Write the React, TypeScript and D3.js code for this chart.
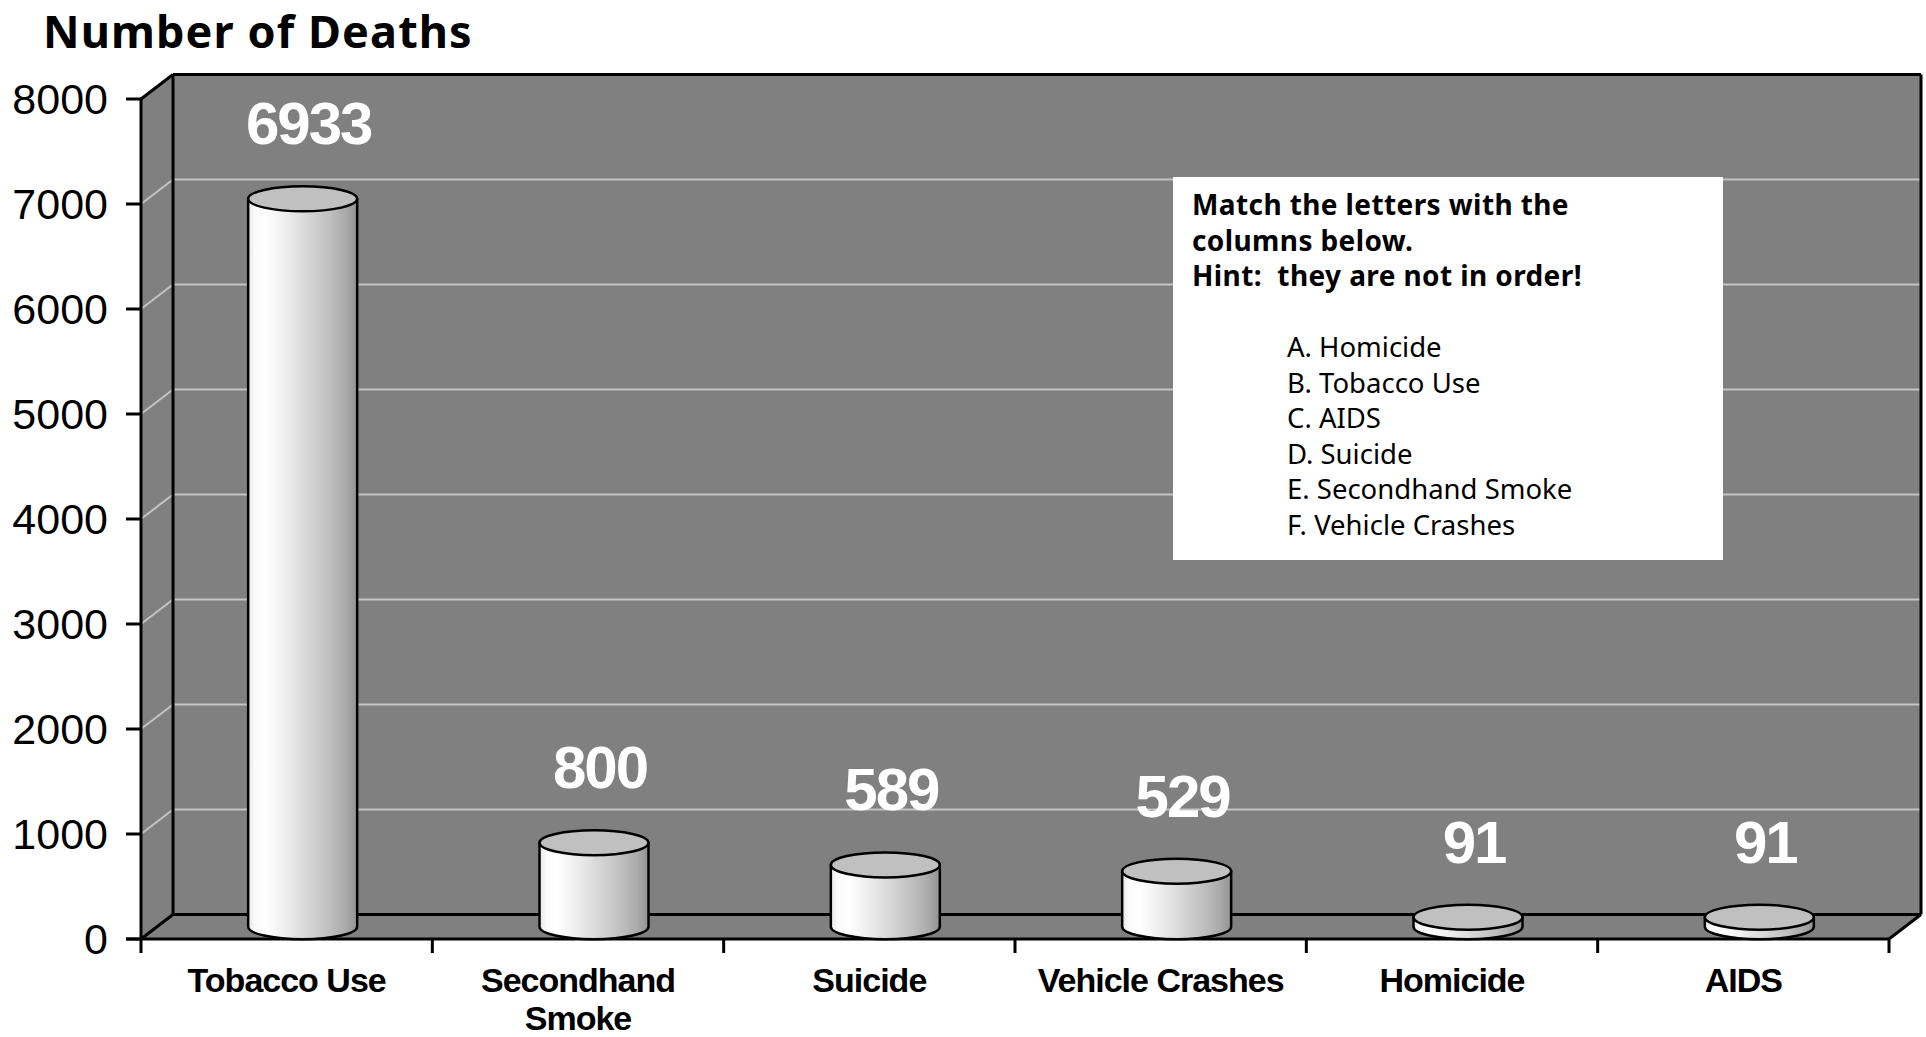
import React from "react";
import * as d3 from "d3";

const categories = ["Tobacco Use", "Secondhand Smoke", "Suicide", "Vehicle Crashes", "Homicide", "AIDS"];
const categoryLines = [["Tobacco Use"], ["Secondhand", "Smoke"], ["Suicide"], ["Vehicle Crashes"], ["Homicide"], ["AIDS"]];
const deaths = [6933, 800, 589, 529, 91, 91];
const yTicks = [0, 1000, 2000, 3000, 4000, 5000, 6000, 7000, 8000];
const title = "Number of Deaths";
const boxHeader = ["Match the letters with the", "columns below.", "Hint:  they are not in order!"];
const boxItems = ["A. Homicide", "B. Tobacco Use", "C. AIDS", "D. Suicide", "E. Secondhand Smoke", "F. Vehicle Crashes"];

const W = 1926;
const H = 1037;

export default function App() {
  const x0 = 141, x1 = 1889, y0 = 939, y1 = 99;
  const dx = 32, dy = 24.5;
  const y = d3.scaleLinear().domain([0, 8000]).range([y0, y1]);
  const x = d3.scaleBand<string>().domain(categories).range([x0, x1]);
  const bw = x.bandwidth();
  const rx = 54.5, ry = 12.5;
  const arial = "'Liberation Sans', Arial, sans-serif";
  const tahoma = "'Noto Sans', 'DejaVu Sans', sans-serif";
  const gray = "#808080";
  const grid = "#c4c4c4";

  const boundaries = [...categories.map((c) => x(c) as number), x1];

  return (
    <svg width={W} height={H} style={{ position: "absolute", left: 0, top: 0, background: "#fff" }}>
      <defs>
        <linearGradient id="cyl" x1="0" x2="1" y1="0" y2="0">
          <stop offset="0" stopColor="#e6e6e6" />
          <stop offset="0.06" stopColor="#fbfbfb" />
          <stop offset="0.16" stopColor="#ffffff" />
          <stop offset="0.35" stopColor="#ededed" />
          <stop offset="0.55" stopColor="#d6d6d6" />
          <stop offset="0.75" stopColor="#bfbfbf" />
          <stop offset="0.9" stopColor="#a9a9a9" />
          <stop offset="1" stopColor="#929292" />
        </linearGradient>
      </defs>
      <style>{"body{margin:0;overflow:hidden}"}</style>

      {/* title */}
      <text x={43} y={48} fontFamily={tahoma} fontWeight="bold" fontSize={45} letterSpacing={1.1} fill="#000">{title}</text>

      {/* side wall */}
      <polygon points={`${x0},${y1} ${x0 + dx},${y1 - dy} ${x0 + dx},${y0 - dy} ${x0},${y0}`} fill={gray} />
      {/* back wall */}
      <rect x={x0 + dx} y={y1 - dy} width={x1 - x0} height={y0 - y1} fill={gray} />
      {/* floor */}
      <polygon points={`${x0},${y0} ${x0 + dx},${y0 - dy} ${x1 + dx},${y0 - dy} ${x1},${y0}`} fill={gray} />

      {/* gridlines */}
      {yTicks.filter((t) => t > 0 && t < 8000).map((t) => (
        <g key={t}>
          <line x1={x0} y1={y(t)} x2={x0 + dx} y2={y(t) - dy} stroke={grid} strokeWidth={2} />
          <line x1={x0 + dx} y1={y(t) - dy} x2={x1 + dx} y2={y(t) - dy} stroke={grid} strokeWidth={2} />
        </g>
      ))}

      {/* wall outlines */}
      <g stroke="#000" strokeWidth={3} fill="none">
        <line x1={x0} y1={y1} x2={x0 + dx} y2={y1 - dy} />
        <line x1={x0 + dx} y1={y1 - dy} x2={x1 + dx} y2={y1 - dy} />
        <line x1={x0 + dx} y1={y1 - dy} x2={x0 + dx} y2={y0 - dy} />
        <line x1={x1 + dx} y1={y1 - dy} x2={x1 + dx} y2={y0 - dy} />
        <line x1={x0} y1={y0} x2={x0 + dx} y2={y0 - dy} />
        <line x1={x0 + dx} y1={y0 - dy} x2={x1 + dx} y2={y0 - dy} />
        <line x1={x1} y1={y0} x2={x1 + dx} y2={y0 - dy} />
        <line x1={x0} y1={y1} x2={x0} y2={y0} />
        <line x1={x0 - 15} y1={y0} x2={x1} y2={y0} />
      </g>

      {/* y ticks & labels */}
      {yTicks.map((t) => (
        <g key={t}>
          <line x1={x0 - 15} y1={y(t)} x2={x0} y2={y(t)} stroke="#000" strokeWidth={3} />
          <text x={108} y={y(t)} dy="0.36em" textAnchor="end" fontFamily={arial} fontSize={43} fill="#000">{t}</text>
        </g>
      ))}

      {/* x ticks */}
      {boundaries.map((b, i) => (
        <line key={i} x1={b} y1={y0} x2={b} y2={y0 + 14} stroke="#000" strokeWidth={3} />
      ))}

      {/* cylinders */}
      {categories.map((c, i) => {
        const cx = (x(c) as number) + bw / 2 + dx / 2;
        const yt = y(deaths[i]) - dy / 2;
        const yb = y(0) - dy / 2;
        const side = `M${cx - rx},${yt} L${cx - rx},${yb} A${rx},${ry} 0 0 0 ${cx + rx},${yb} L${cx + rx},${yt} Z`;
        return (
          <g key={c}>
            <path d={side} fill="url(#cyl)" stroke="#000" strokeWidth={2.5} strokeLinejoin="round" />
            <ellipse cx={cx} cy={yt} rx={rx} ry={ry} fill="#c0c0c0" stroke="#000" strokeWidth={2.5} />
            <text x={cx + 6} y={yt - ry - 42} textAnchor="middle" fontFamily={arial} fontWeight="bold" fontSize={60} letterSpacing={-2} fill="#fff">{deaths[i]}</text>
          </g>
        );
      })}

      {/* category labels */}
      {categories.map((c, i) => (
        <text key={c} textAnchor="middle" fontFamily={arial} fontWeight="bold" fontSize={34} letterSpacing={-1} fill="#000">
          {categoryLines[i].map((ln, j) => (
            <tspan key={j} x={(x(c) as number) + bw / 2} y={992 + j * 38}>{ln}</tspan>
          ))}
        </text>
      ))}

      {/* text box */}
      <rect x={1173} y={177} width={550} height={383} fill="#fff" />
      {boxHeader.map((ln, i) => (
        <text key={ln} x={1192} y={215 + i * 35.5} fontFamily={tahoma} fontWeight="bold" fontSize={28} letterSpacing={0.4} fill="#000" style={{ whiteSpace: "pre" }}>{ln}</text>
      ))}
      {boxItems.map((ln, i) => (
        <text key={ln} x={1287} y={357 + i * 35.5} fontFamily={tahoma} fontSize={27.5} fill="#000">{ln}</text>
      ))}
    </svg>
  );
}
